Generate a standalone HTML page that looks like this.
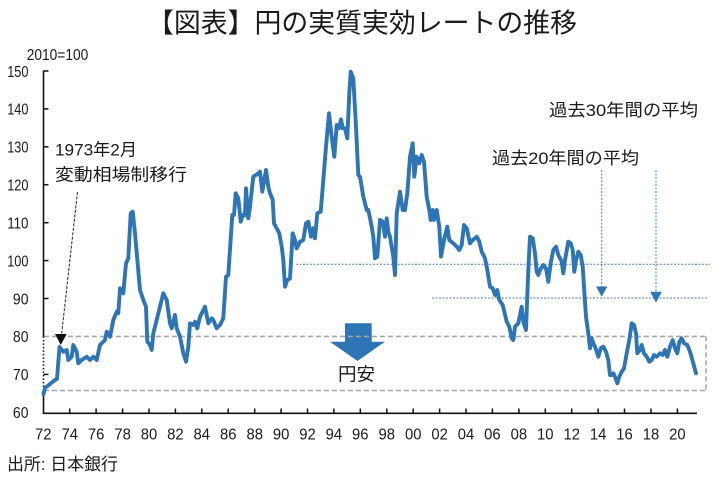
<!DOCTYPE html>
<html><head><meta charset="utf-8"><style>
html,body{margin:0;padding:0;background:#fff;}
svg{display:block;}
text{font-family:"Liberation Sans","Noto Sans CJK JP",sans-serif;fill:#1a1a1a;}
</style></head><body>
<svg width="728" height="477" viewBox="0 0 728 477" xmlns="http://www.w3.org/2000/svg">
<rect width="728" height="477" fill="#fff"/>
<!-- title -->
<text x="147" y="32.5" font-size="27" textLength="430" lengthAdjust="spacingAndGlyphs">【図表】円の実質実効レートの推移</text>
<text x="26.7" y="60" font-size="16" textLength="61.6" lengthAdjust="spacingAndGlyphs">2010=100</text>

<!-- y labels -->
<g font-size="16">
<text x="7.2" y="76.8" textLength="21.3" lengthAdjust="spacingAndGlyphs">150</text>
<text x="7.2" y="114.7" textLength="21.3" lengthAdjust="spacingAndGlyphs">140</text>
<text x="7.2" y="152.6" textLength="21.3" lengthAdjust="spacingAndGlyphs">130</text>
<text x="7.2" y="190.5" textLength="21.3" lengthAdjust="spacingAndGlyphs">120</text>
<text x="7.2" y="228.5" textLength="21.3" lengthAdjust="spacingAndGlyphs">110</text>
<text x="7.2" y="266.4" textLength="21.3" lengthAdjust="spacingAndGlyphs">100</text>
<text x="12.9" y="304.3" textLength="15.6" lengthAdjust="spacingAndGlyphs">90</text>
<text x="12.9" y="342.2" textLength="15.6" lengthAdjust="spacingAndGlyphs">80</text>
<text x="12.9" y="380.2" textLength="15.6" lengthAdjust="spacingAndGlyphs">70</text>
<text x="12.9" y="418.1" textLength="15.6" lengthAdjust="spacingAndGlyphs">60</text>
</g>

<!-- x labels -->
<g font-size="16" text-anchor="middle">
<text x="43.3" y="439.5" textLength="16.5" lengthAdjust="spacingAndGlyphs">72</text>
<text x="69.7" y="439.5" textLength="16.5" lengthAdjust="spacingAndGlyphs">74</text>
<text x="96.1" y="439.5" textLength="16.5" lengthAdjust="spacingAndGlyphs">76</text>
<text x="122.6" y="439.5" textLength="16.5" lengthAdjust="spacingAndGlyphs">78</text>
<text x="149.0" y="439.5" textLength="16.5" lengthAdjust="spacingAndGlyphs">80</text>
<text x="175.4" y="439.5" textLength="16.5" lengthAdjust="spacingAndGlyphs">82</text>
<text x="201.8" y="439.5" textLength="16.5" lengthAdjust="spacingAndGlyphs">84</text>
<text x="228.2" y="439.5" textLength="16.5" lengthAdjust="spacingAndGlyphs">86</text>
<text x="254.7" y="439.5" textLength="16.5" lengthAdjust="spacingAndGlyphs">88</text>
<text x="281.1" y="439.5" textLength="16.5" lengthAdjust="spacingAndGlyphs">90</text>
<text x="307.5" y="439.5" textLength="16.5" lengthAdjust="spacingAndGlyphs">92</text>
<text x="333.9" y="439.5" textLength="16.5" lengthAdjust="spacingAndGlyphs">94</text>
<text x="360.3" y="439.5" textLength="16.5" lengthAdjust="spacingAndGlyphs">96</text>
<text x="386.8" y="439.5" textLength="16.5" lengthAdjust="spacingAndGlyphs">98</text>
<text x="413.2" y="439.5" textLength="16.5" lengthAdjust="spacingAndGlyphs">00</text>
<text x="439.6" y="439.5" textLength="16.5" lengthAdjust="spacingAndGlyphs">02</text>
<text x="466.0" y="439.5" textLength="16.5" lengthAdjust="spacingAndGlyphs">04</text>
<text x="492.4" y="439.5" textLength="16.5" lengthAdjust="spacingAndGlyphs">06</text>
<text x="518.9" y="439.5" textLength="16.5" lengthAdjust="spacingAndGlyphs">08</text>
<text x="545.3" y="439.5" textLength="16.5" lengthAdjust="spacingAndGlyphs">10</text>
<text x="571.7" y="439.5" textLength="16.5" lengthAdjust="spacingAndGlyphs">12</text>
<text x="598.1" y="439.5" textLength="16.5" lengthAdjust="spacingAndGlyphs">14</text>
<text x="624.5" y="439.5" textLength="16.5" lengthAdjust="spacingAndGlyphs">16</text>
<text x="651.0" y="439.5" textLength="16.5" lengthAdjust="spacingAndGlyphs">18</text>
<text x="677.4" y="439.5" textLength="16.5" lengthAdjust="spacingAndGlyphs">20</text>
</g>

<!-- big arrow (円安) -->
<polygon points="345,323.3 371.7,323.3 371.7,341.7 385,341.7 357.5,361 330,341.7 345,341.7" fill="#2e75b6"/>
<text x="338" y="380.7" font-size="18" textLength="37" lengthAdjust="spacingAndGlyphs">円安</text>

<!-- gray dashed box -->
<g stroke="#a6a6a6" stroke-width="1.6" stroke-dasharray="5,3" fill="none">
<line x1="44" y1="336.4" x2="706" y2="336.4"/>
<line x1="44" y1="390.5" x2="706" y2="390.5"/>
<line x1="706" y1="336.4" x2="706" y2="390.5"/>
</g>

<!-- blue dotted average lines -->
<g stroke="#4a7ebb" stroke-width="1" stroke-dasharray="2,1.5" fill="none">
<line x1="296" y1="264.3" x2="710" y2="264.3"/>
<line x1="432" y1="298" x2="708" y2="298"/>
<line x1="601.7" y1="170" x2="601.7" y2="287"/>
<line x1="656" y1="170" x2="656" y2="292"/>
</g>
<polygon points="596,286.5 607.4,286.5 601.7,296.8" fill="#2e75b6"/>
<polygon points="650.2,291.7 661.8,291.7 656,302.7" fill="#2e75b6"/>

<!-- annotation labels -->
<text x="549" y="115.8" font-size="17" textLength="149" lengthAdjust="spacingAndGlyphs">過去30年間の平均</text>
<text x="492" y="163.8" font-size="17" textLength="147" lengthAdjust="spacingAndGlyphs">過去20年間の平均</text>
<text x="55" y="155.3" font-size="17" textLength="82" lengthAdjust="spacingAndGlyphs">1973年2月</text>
<text x="55" y="180.3" font-size="17" textLength="132" lengthAdjust="spacingAndGlyphs">変動相場制移行</text>
<text x="7" y="470" font-size="17" textLength="111" lengthAdjust="spacingAndGlyphs">出所: 日本銀行</text>

<!-- 1973 black arrow -->
<line x1="77.5" y1="192" x2="61.5" y2="335" stroke="#222" stroke-width="1" stroke-dasharray="3,1.5"/>
<polygon points="55,334 66.7,334 60.8,345" fill="#111"/>

<!-- axes -->
<g stroke="#111" stroke-width="1.6" fill="none">
<line x1="43.5" y1="70.5" x2="43.5" y2="336.4"/>
<line x1="43.5" y1="390.5" x2="43.5" y2="414"/>
<line x1="42.7" y1="413.3" x2="697" y2="413.3"/>
</g>
<line x1="43.5" y1="336.4" x2="43.5" y2="390.5" stroke="#111" stroke-width="1.6" stroke-dasharray="1.5,2"/>
<g stroke="#111" stroke-width="1.5">
<line x1="43.5" y1="71" x2="48.5" y2="71"/>
<line x1="43.5" y1="108.9" x2="48.5" y2="108.9"/>
<line x1="43.5" y1="146.8" x2="48.5" y2="146.8"/>
<line x1="43.5" y1="184.7" x2="48.5" y2="184.7"/>
<line x1="43.5" y1="222.7" x2="48.5" y2="222.7"/>
<line x1="43.5" y1="260.6" x2="48.5" y2="260.6"/>
<line x1="43.5" y1="298.5" x2="48.5" y2="298.5"/>
<line x1="43.5" y1="374.4" x2="48.5" y2="374.4"/>
<line x1="69.7" y1="413" x2="69.7" y2="408.5"/>
<line x1="96.1" y1="413" x2="96.1" y2="408.5"/>
<line x1="122.6" y1="413" x2="122.6" y2="408.5"/>
<line x1="149.0" y1="413" x2="149.0" y2="408.5"/>
<line x1="175.4" y1="413" x2="175.4" y2="408.5"/>
<line x1="201.8" y1="413" x2="201.8" y2="408.5"/>
<line x1="228.2" y1="413" x2="228.2" y2="408.5"/>
<line x1="254.7" y1="413" x2="254.7" y2="408.5"/>
<line x1="281.1" y1="413" x2="281.1" y2="408.5"/>
<line x1="307.5" y1="413" x2="307.5" y2="408.5"/>
<line x1="333.9" y1="413" x2="333.9" y2="408.5"/>
<line x1="360.3" y1="413" x2="360.3" y2="408.5"/>
<line x1="386.8" y1="413" x2="386.8" y2="408.5"/>
<line x1="413.2" y1="413" x2="413.2" y2="408.5"/>
<line x1="439.6" y1="413" x2="439.6" y2="408.5"/>
<line x1="466.0" y1="413" x2="466.0" y2="408.5"/>
<line x1="492.4" y1="413" x2="492.4" y2="408.5"/>
<line x1="518.9" y1="413" x2="518.9" y2="408.5"/>
<line x1="545.3" y1="413" x2="545.3" y2="408.5"/>
<line x1="571.7" y1="413" x2="571.7" y2="408.5"/>
<line x1="598.1" y1="413" x2="598.1" y2="408.5"/>
<line x1="624.5" y1="413" x2="624.5" y2="408.5"/>
<line x1="651.0" y1="413" x2="651.0" y2="408.5"/>
<line x1="677.4" y1="413" x2="677.4" y2="408.5"/>
</g>

<!-- data line -->
<polyline fill="none" stroke="#2e75b6" stroke-width="3.9" stroke-linejoin="round" stroke-linecap="round" points="
43.5,394 45,388 50,384 55,380 57,379 59.5,347 63.3,351.7 66.7,350 68.3,360 71.7,356.7 73.3,345 76.7,351.7 78.3,363.3 81.7,360 86.7,356.7 90,360 93.3,356.7 96.7,360 100,345 105,340 106.7,331.7 110,336.7 113.3,320 116.7,311.7 118.3,313.3 120,288.3 123.3,293.3 126,263.3 128.3,258.3 130.7,213.3 132.7,211.7 135,233.3 140,290 143.3,300 146,306.7 147.3,341.7 150,345 151.7,350 153.3,333.3 156.7,320 158.3,313.3 160,306.7 163.3,293.3 166.7,300 170,323.3 171.7,328.3 175,315 176.7,328.3 180,336.7 183.3,353.3 186,361.7 188.3,346.7 190,323.3 193.3,325 195,321.7 197.3,328.3 200,316.7 205,306.7 208.3,323.3 211.7,318.3 213.3,320 216.7,328.3 220,325 223.3,318.3 226,276.7 228.3,275 232.3,215 234,215 235.7,193.3 238.3,198.3 240.7,221.7 242.7,215 245,215 246,188.3 248.3,218.3 250,206.7 253.3,176.7 256,175 258.3,173.3 260,171.7 262.3,191.7 264,181.7 266,170 268.3,186.7 270,193.3 272.7,200 274,223.3 276.7,228.3 279.3,233.3 281.7,246.7 283.3,260 285,286.7 287.3,280 290,278.3 292.7,233.3 295,240 296.7,248.3 300,241.7 303.3,240 306,223.3 308.3,221.7 311,236.7 313.3,228.3 315,238.3 317.3,213.3 320.7,211.7 323.3,180 326,146.7 329,113.3 331.7,136.7 334.3,156.7 336.7,125 339,128.3 341,119.3 342.7,128.3 345,128.3 347.3,138.3 349.3,93.3 350.7,71.7 353.3,78.3 356,126.7 358.3,175 360,176.7 363.3,196.7 366.7,210 368.3,210 371.7,226.7 373.3,236.7 375,258.3 377.3,256.7 380,220 382.7,221.7 385,236.7 386.7,218.3 388.3,231.7 390,236.7 393.3,256.7 395,275 396.7,213.3 400,191.7 402.7,210 405,210 407.3,193.3 410,156.7 412.7,143.3 414.3,176.7 416.7,156.7 419.3,163.3 421.7,155 424,161.7 426.7,196.7 429.3,210 430.7,220 432.7,210 434,220 436.7,210 439.3,226.7 441,256.7 444,240 447.3,226.7 449.3,240 453.3,243.3 456.7,246.7 459.3,250 461.7,245 464,225 466.7,228.3 470,243.3 472.7,240 475,238.3 476.7,236.7 479.3,241.7 481.7,251.7 485,258.3 487.3,270 490,286.7 492.7,288.3 495,295 497.3,290 499.3,300 502.7,305 504.3,311.7 506.7,321.7 509.3,326.7 511.7,338.3 513.3,340 515,326.7 518.3,323.3 521.7,306.7 523.3,321.7 526,330 528.3,270 530,236.7 532.7,238.3 535,253.3 536.7,271.7 538.3,275 540,270 543.3,265 546,268.3 548.3,281.7 550.7,263.3 553.3,250 556,246.7 558.3,255 561.7,261.7 563.3,273.3 565,260 568.3,241.7 570.7,243.3 572.7,250 574.3,271.7 576,260 578.3,251.7 580.7,255 582.7,266.7 584,286.7 586,316.7 588.3,333.3 590,348.3 591.7,338.3 593.3,343.3 595,346.7 598.3,356.7 600.7,348.3 603.3,346.7 606,351.7 608.3,360 610,375 611.7,375 613.3,373.3 615,376.7 617.3,383.3 619.3,376.7 621.7,371.7 624,368.3 626.7,353.3 629.3,340 631.7,323.3 634,325 636,333.3 637.3,353.3 640,350 641.7,345 644,353.3 646.7,356.7 649.3,361.7 651.7,360 654,355 656.7,356.7 660,353.3 662.7,355 665,350 667.3,356.7 670,346.7 672.7,340 675,348.3 677.3,353.3 679.3,341.7 681.7,338.3 684,343.3 687.3,345 690,351.7 693.3,363.3 696,373.3"/>
</svg>
</body></html>
